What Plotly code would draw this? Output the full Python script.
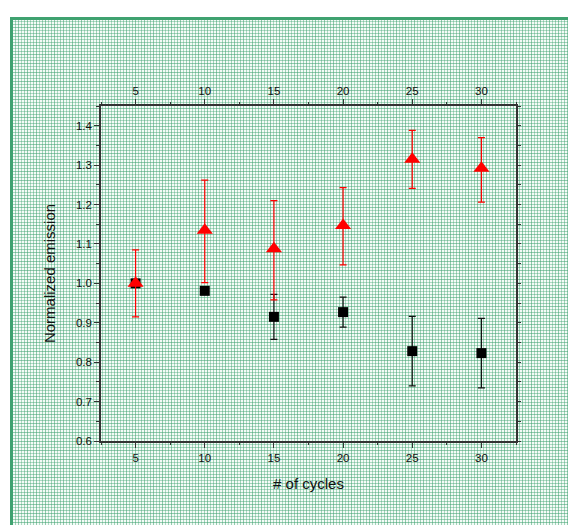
import base64
import plotly.graph_objects as go

# ---- data ----
cycles = [5, 10, 15, 20, 25, 30]
black_vals = [1.000, 0.981, 0.915, 0.927, 0.828, 0.823]
black_err = [0.0, 0.0, 0.057, 0.038, 0.088, 0.088]
red_vals = [1.000, 1.135, 1.088, 1.147, 1.315, 1.292]
red_err_plus = [0.085, 0.127, 0.122, 0.096, 0.073, 0.078]
red_err_minus = [0.085, 0.133, 0.130, 0.100, 0.074, 0.086]
x_ticks = [5, 10, 15, 20, 25, 30]
y_ticks = [0.6, 0.7, 0.8, 0.9, 1.0, 1.1, 1.2, 1.3, 1.4]

W, H = 568, 525
ML, MR, MT, MB = 101, 52, 106, 84

# ---- graph-paper background (decorative) ----
g = "#3fa270"
svg = f'''<svg xmlns="http://www.w3.org/2000/svg" width="{W}" height="{H}" viewBox="0 0 {W} {H}" preserveAspectRatio="none">
<defs><pattern id="p" x="0" y="0" width="9" height="9" patternUnits="userSpaceOnUse">
<rect width="9" height="9" fill="#f4fbf7"/>
<rect x="0" y="0" width="1" height="9" fill="{g}" fill-opacity="0.55"/>
<rect x="3" y="0" width="1" height="9" fill="{g}" fill-opacity="0.38"/>
<rect x="6" y="0" width="1" height="9" fill="{g}" fill-opacity="0.45"/>
<rect x="0" y="0" width="9" height="1" fill="{g}" fill-opacity="0.55"/>
<rect x="0" y="3" width="9" height="1" fill="{g}" fill-opacity="0.38"/>
<rect x="0" y="6" width="9" height="1" fill="{g}" fill-opacity="0.45"/>
</pattern></defs>
<rect x="0" y="0" width="{W}" height="{H}" fill="#ffffff"/>
<rect x="11" y="18" width="{W}" height="{H}" fill="url(#p)"/>
<rect x="10" y="17" width="{W-10}" height="3" fill="{g}"/>
<rect x="10" y="17" width="3" height="{H-17}" fill="{g}"/>
</svg>'''
src = "data:image/svg+xml;base64," + base64.b64encode(svg.encode()).decode()

pw = W - ML - MR
ph = H - MT - MB

fig = go.Figure()

fig.add_trace(go.Scatter(
    x=cycles, y=black_vals, mode="markers",
    marker=dict(symbol="square", size=10, color="black"),
    error_y=dict(type="data", array=black_err, color="#111111", thickness=1.2, width=3.5),
    showlegend=False,
))
fig.add_trace(go.Scatter(
    x=cycles, y=red_vals, mode="markers",
    marker=dict(symbol="triangle-up", size=14, color="#ff0000"),
    error_y=dict(type="data", array=red_err_plus, arrayminus=red_err_minus,
                 color="#ff0000", thickness=1.2, width=3.5),
    showlegend=False,
))
# invisible trace to drive the secondary axes
fig.add_trace(go.Scatter(x=cycles, y=red_vals, xaxis="x2", yaxis="y2",
                         mode="markers", marker=dict(opacity=0), hoverinfo="skip",
                         showlegend=False))

font_family = "Liberation Sans, Arial, sans-serif"
tick_font = dict(family=font_family, size=11.5, color="#111111")
title_font = dict(family=font_family, size=15, color="#111111")
axis_common = dict(showgrid=False, zeroline=False, showline=True, linecolor="#333333",
                   linewidth=1.5, ticks="outside", tickcolor="#333333", tickwidth=1.2)

fig.update_layout(
    width=W, height=H,
    margin=dict(l=ML, r=MR, t=MT, b=MB),
    paper_bgcolor="#ffffff",
    plot_bgcolor="rgba(0,0,0,0)",
    font=dict(family=font_family, color="#111111"),
    images=[dict(source=src, xref="paper", yref="paper",
                 x=-ML / pw, y=1 + MT / ph, sizex=W / pw, sizey=H / ph,
                 xanchor="left", yanchor="top", sizing="stretch", layer="below")],
    xaxis=dict(range=[2.5, 32.5], tickvals=x_ticks, ticklen=5, tickfont=tick_font,
               minor=dict(dtick=2.5, tick0=2.5, ticklen=2, ticks="outside", tickcolor="#333333"),
               title=dict(text="# of cycles", font=title_font, standoff=16),
               **axis_common),
    xaxis2=dict(range=[2.5, 32.5], tickvals=x_ticks, ticklen=5, overlaying="x", side="top",
                tickfont=tick_font,
                minor=dict(dtick=2.5, tick0=2.5, ticklen=2, ticks="outside", tickcolor="#333333"),
                **axis_common),
    yaxis=dict(range=[0.6, 1.45], tickvals=y_ticks, ticktext=[f"{v:.1f}" for v in y_ticks],
               ticklen=5, tickfont=tick_font,
               minor=dict(dtick=0.05, tick0=0.6, ticklen=3, ticks="outside", tickcolor="#333333"),
               title=dict(text="Normalized emission", font=title_font, standoff=17),
               **axis_common),
    yaxis2=dict(range=[0.6, 1.45], dtick=0.05, tick0=0.6, ticklen=3, overlaying="y", side="right",
                showticklabels=False, **axis_common),
)

fig.write_html("out.html", config={"displayModeBar": False},
               post_script="document.body.style.margin='0px';document.body.style.padding='0px';")
